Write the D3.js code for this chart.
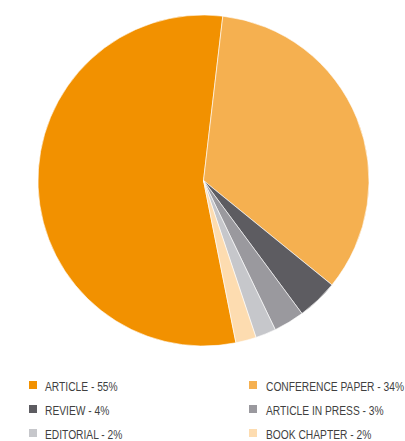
<!DOCTYPE html>
<html>
<head>
<meta charset="utf-8">
<script src="https://cdn.jsdelivr.net/npm/d3@7"></script>
<style>
  html, body { margin: 0; padding: 0; background: #fff; }
  svg { display: block; }
</style>
</head>
<body>
<svg id="chart" width="405" height="441"></svg>
<script>
const categories = ["ARTICLE", "CONFERENCE PAPER", "REVIEW", "ARTICLE IN PRESS", "EDITORIAL", "BOOK CHAPTER"];
const values = [55, 34, 4, 3, 2, 2];
const colors = ["#F29100", "#F5B050", "#5D5C61", "#9A999E", "#C6C7CB", "#FDDCB0"];

const svg = d3.select("#chart");
const cx = 203.5, cy = 180.5, r = 165.5;
const startDeg = 168.7;

const data = categories.map((c, i) => ({ name: c, value: values[i], color: colors[i] }));

const pie = d3.pie()
  .sort(null)
  .value(d => d.value)
  .startAngle(startDeg * Math.PI / 180)
  .endAngle(startDeg * Math.PI / 180 + 2 * Math.PI);

const arc = d3.arc().innerRadius(0).outerRadius(r);

svg.append("g")
  .attr("transform", `translate(${cx},${cy})`)
  .selectAll("path")
  .data(pie(data))
  .join("path")
  .attr("d", arc)
  .attr("fill", d => d.data.color)
  .attr("stroke", "#fff")
  .attr("stroke-width", 0.6)
  .attr("stroke-linejoin", "round");

// Legend: two columns, three rows
const colX = [29, 249];
const rowY = [381, 405, 429];
const legend = svg.append("g")
  .selectAll("g")
  .data(data)
  .join("g")
  .attr("transform", (d, i) => `translate(${colX[i % 2]},${rowY[Math.floor(i / 2)]})`);

legend.append("rect")
  .attr("width", 8)
  .attr("height", 8)
  .attr("fill", d => d.color);

legend.append("text")
  .attr("transform", (d, i) => `translate(${i % 2 === 0 ? 16 : 17},10) scale(0.82,1)`)
  .attr("font-family", "'Liberation Sans', Arial, sans-serif")
  .attr("font-size", 12.5)
  .attr("fill", "#3f3f3f")
  .text(d => `${d.name} - ${d.value}%`);
</script>
</body>
</html>
